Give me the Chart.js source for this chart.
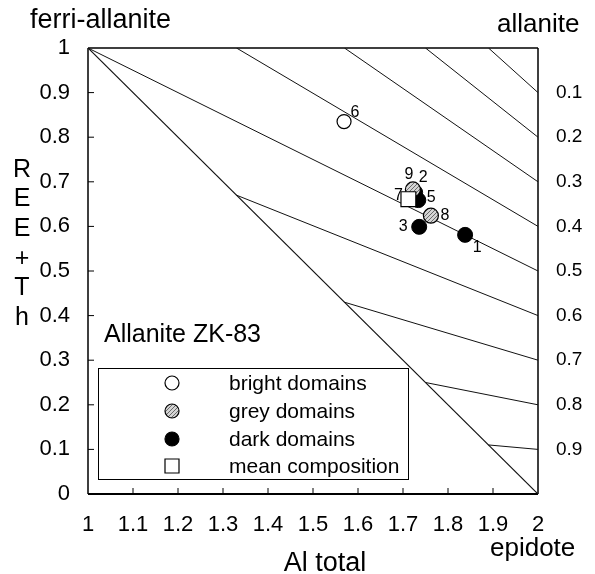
<!DOCTYPE html>
<html>
<head>
<meta charset="utf-8">
<script src="https://cdn.jsdelivr.net/npm/chart.js@4.4.1/dist/chart.umd.min.js"></script>
<style>
  html, body { margin: 0; padding: 0; background: #fff; }
  #wrap { width: 595px; height: 574px; }
</style>
</head>
<body>
<div id="wrap"><canvas id="chart" width="595" height="574"></canvas></div>
<script>
// analyses: Al total (x) vs REE+Th (y), numbers are spot labels
const brightX = [1.569];
const brightY = [0.835];
const brightNo = ['6'];

const greyX = [1.722, 1.762];
const greyY = [0.683, 0.624];
const greyNo = ['9', '8'];

const darkX = [1.727, 1.734, 1.736, 1.838];
const darkY = [0.676, 0.659, 0.599, 0.581];
const darkNo = ['2', '5', '3', '1'];

const meanX = [1.712];
const meanY = [0.661];
const meanNo = ['7'];

// allanite isolines: start point, all end on the right edge (x = 2)
const isoStartX = [1.89, 1.75, 1.57, 1.33, 1, 1.33, 1.57, 1.75, 1.89];
const isoStartY = [1, 1, 1, 1, 1, 0.67, 0.43, 0.25, 0.11];
const isoEndY = [0.9, 0.8, 0.7, 0.6, 0.5, 0.4, 0.3, 0.2, 0.1];

// ferri-allanite -> epidote boundary
const edgeX = [1, 2];
const edgeY = [1, 0];

// right hand scale labels (allanite fraction), from top to bottom
const rightLabels = ['0.1', '0.2', '0.3', '0.4', '0.5', '0.6', '0.7', '0.8', '0.9'];

// pixel offsets of the spot numbers from their marker
const brightOff = [[11, -9]];
const greyOff = [[-4, -15], [14, 0]];
const darkOff = [[8, -15], [13, -2], [-16, 0], [12, 13]];
const meanOff = [[-10, -4]];

const FONT = "'Liberation Sans', Arial, sans-serif";

function toPoints(xs, ys) {
  return xs.map((x, i) => ({ x: x, y: ys[i] }));
}

// hatched grey fill for the grey domains
function greyPattern() {
  const c = document.createElement('canvas');
  c.width = 4; c.height = 4;
  const g = c.getContext('2d');
  g.fillStyle = '#d4d4d4';
  g.fillRect(0, 0, 4, 4);
  g.fillStyle = '#6a6a6a';
  g.fillRect(0, 0, 1, 1);
  g.fillRect(2, 2, 1, 1);
  g.fillRect(1, 3, 1, 1);
  g.fillRect(3, 1, 1, 1);
  return g.createPattern(c, 'repeat');
}
const greyFill = greyPattern();

const datasets = [
  { label: 'mean composition', data: toPoints(meanX, meanY), pointStyle: 'rect', pointRadius: 10.5,
    backgroundColor: '#fff', borderColor: '#000', borderWidth: 1.2, nums: meanNo, off: meanOff },
  { label: 'bright domains', data: toPoints(brightX, brightY), pointStyle: 'circle', pointRadius: 7,
    backgroundColor: '#fff', borderColor: '#000', borderWidth: 1.2, nums: brightNo, off: brightOff },
  { label: 'grey domains', data: toPoints(greyX, greyY), pointStyle: 'circle', pointRadius: 7.5,
    backgroundColor: greyFill, borderColor: '#000', borderWidth: 1.2, nums: greyNo, off: greyOff },
  { label: 'dark domains', data: toPoints(darkX, darkY), pointStyle: 'circle', pointRadius: 7.5,
    backgroundColor: '#000', borderColor: '#000', borderWidth: 1, nums: darkNo, off: darkOff }
];

datasets.push({
  data: toPoints(edgeX, edgeY), showLine: true, pointRadius: 0,
  borderColor: '#111', borderWidth: 1.2
});
for (let i = 0; i < isoStartX.length; i++) {
  datasets.push({
    data: [{ x: isoStartX[i], y: isoStartY[i] }, { x: 2, y: isoEndY[i] }],
    showLine: true, pointRadius: 0, borderColor: '#111', borderWidth: 1
  });
}

function fmt(v) {
  return String(+v.toFixed(1));
}

// frame with inward ticks, drawn under the marks
const framePlugin = {
  id: 'frame',
  beforeDatasetsDraw(chart) {
    const ctx = chart.ctx;
    const a = chart.chartArea;
    const sx = chart.scales.x, sy = chart.scales.y;
    ctx.save();
    ctx.strokeStyle = '#000';
    ctx.lineWidth = 1.5;
    ctx.beginPath();
    ctx.moveTo(a.left, a.top); ctx.lineTo(a.right, a.top);
    ctx.moveTo(a.left, a.top); ctx.lineTo(a.left, a.bottom);
    ctx.moveTo(a.right, a.top); ctx.lineTo(a.right, a.bottom);
    ctx.stroke();
    ctx.lineWidth = 2;
    ctx.beginPath();
    ctx.moveTo(a.left, a.bottom); ctx.lineTo(a.right, a.bottom);
    ctx.stroke();
    ctx.lineWidth = 1;
    ctx.beginPath();
    sx.ticks.forEach(t => {
      if (t.value <= 1.001 || t.value >= 1.999) return;
      const px = sx.getPixelForValue(t.value);
      ctx.moveTo(px, a.bottom); ctx.lineTo(px, a.bottom - 6);
    });
    sy.ticks.forEach(t => {
      if (t.value <= 0.001 || t.value >= 0.999) return;
      const py = sy.getPixelForValue(t.value);
      ctx.moveTo(a.left, py); ctx.lineTo(a.left + 6, py);
    });
    ctx.stroke();
    ctx.restore();
  },
  afterDraw(chart) {
    const ctx = chart.ctx;
    ctx.save();
    ctx.fillStyle = '#000';
    ctx.textBaseline = 'alphabetic';

    // corner and axis titles
    ctx.font = '27px ' + FONT;
    ctx.textAlign = 'left';
    ctx.fillText('ferri-allanite', 30, 28);
    ctx.font = '26px ' + FONT;
    ctx.fillText('allanite', 497, 32);
    ctx.fillText('epidote', 490, 556);
    ctx.font = '27px ' + FONT;
    ctx.textAlign = 'center';
    ctx.fillText('Al total', 325, 571);

    // stacked y title
    ctx.font = '25px ' + FONT;
    ctx.textBaseline = 'middle';
    const letters = ['R', 'E', 'E', '+', 'T', 'h'];
    letters.forEach((c, i) => ctx.fillText(c, 22, 170 + i * 29.6));

    ctx.textAlign = 'left';
    ctx.textBaseline = 'alphabetic';
    ctx.font = '25px ' + FONT;
    ctx.fillText('Allanite ZK-83', 104, 342);

    // spot numbers
    ctx.font = '16px ' + FONT;
    ctx.textAlign = 'center';
    ctx.textBaseline = 'middle';
    chart.data.datasets.forEach((ds, di) => {
      if (!ds.nums) return;
      const meta = chart.getDatasetMeta(di);
      meta.data.forEach((el, j) => {
        ctx.fillText(ds.nums[j], el.x + ds.off[j][0], el.y + ds.off[j][1]);
      });
    });

    // legend box
    ctx.lineWidth = 1;
    ctx.strokeStyle = '#000';
    ctx.fillStyle = '#fff';
    ctx.fillRect(98.5, 368.5, 310, 111);
    ctx.strokeRect(98.5, 368.5, 310, 111);
    const order = [1, 2, 3, 0];
    const rows = [383, 411, 439, 466];
    ctx.font = '21px ' + FONT;
    ctx.textAlign = 'left';
    order.forEach((di, r) => {
      const ds = chart.data.datasets[di];
      const y = rows[r];
      ctx.fillStyle = ds.backgroundColor;
      ctx.beginPath();
      if (ds.pointStyle === 'rect') {
        ctx.rect(165, y - 7, 14, 14);
      } else {
        ctx.arc(172, y, 7, 0, Math.PI * 2);
      }
      ctx.fill();
      ctx.lineWidth = 1.2;
      ctx.stroke();
      ctx.fillStyle = '#000';
      ctx.fillText(ds.label, 229, y + 1);
    });
    ctx.restore();
  }
};

new Chart(document.getElementById('chart'), {
  type: 'scatter',
  data: { datasets: datasets },
  plugins: [framePlugin],
  options: {
    responsive: false,
    animation: false,
    layout: { padding: { top: 48, left: 0, right: 0, bottom: 0 } },
    plugins: { legend: { display: false }, tooltip: { enabled: false } },
    scales: {
      x: {
        type: 'linear', min: 1, max: 2,
        grid: { display: false }, border: { display: false },
        ticks: { stepSize: 0.1, color: '#000', font: { size: 22, family: FONT }, padding: 10,
          maxRotation: 0, autoSkip: false, callback: v => fmt(v) },
        afterFit(s) { s.height = 80; }
      },
      y: {
        type: 'linear', min: 0, max: 1, position: 'left',
        grid: { display: false }, border: { display: false },
        ticks: { stepSize: 0.1, color: '#000', font: { size: 22, family: FONT }, padding: 10,
          autoSkip: false, callback: v => fmt(v) },
        afterFit(s) { s.width = 88; }
      },
      y2: {
        type: 'linear', min: 0, max: 1, position: 'right',
        grid: { display: false }, border: { display: false },
        ticks: { stepSize: 0.1, color: '#000', font: { size: 19, family: FONT }, padding: 10,
          autoSkip: false, callback: v => {
            const i = Math.round(v * 10);
            return i >= 1 && i <= 9 ? rightLabels[9 - i] : '';
          } },
        afterFit(s) { s.width = 57; }
      }
    }
  }
});
</script>
</body>
</html>
